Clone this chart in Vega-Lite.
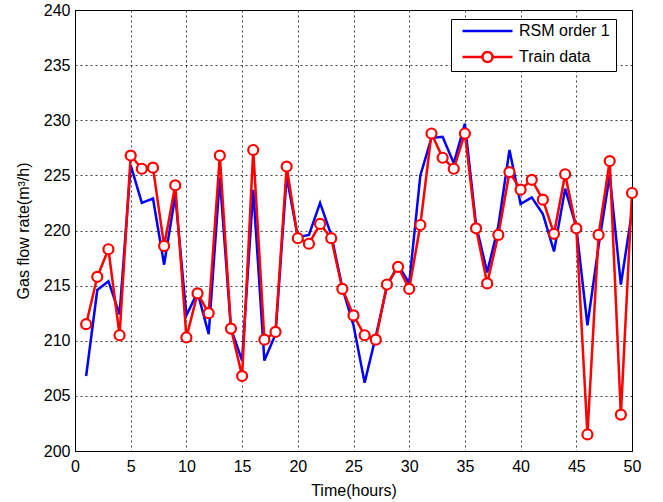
{
  "$schema": "https://vega.github.io/schema/vega-lite/v6.json",
  "width": 557,
  "height": 441,
  "autosize": {"type": "none"},
  "padding": {"left": 75, "top": 10, "right": 31, "bottom": 51},
  "background": "white",
  "config": {
    "view": {"stroke": "black", "strokeWidth": 1},
    "font": "Liberation Sans",
    "axis": {
      "labelFont": "Liberation Sans",
      "titleFont": "Liberation Sans",
      "labelFontSize": 16,
      "titleFontSize": 16,
      "titleFontWeight": "normal",
      "labelColor": "black",
      "titleColor": "black",
      "domainColor": "black",
      "domainWidth": 1,
      "ticks": false,
      "grid": true,
      "gridColor": "black",
      "gridDash": [2, 3],
      "gridOpacity": 0.75,
      "gridWidth": 1
    }
  },
  "data": {
    "values": [
      {"t": 1, "rsm": 206.8, "train": 211.5},
      {"t": 2, "rsm": 214.6, "train": 215.8},
      {"t": 3, "rsm": 215.4, "train": 218.3},
      {"t": 4, "rsm": 212.4, "train": 210.5},
      {"t": 5, "rsm": 225.9, "train": 226.8},
      {"t": 6, "rsm": 222.5, "train": 225.6},
      {"t": 7, "rsm": 222.9, "train": 225.7},
      {"t": 8, "rsm": 216.9, "train": 218.6},
      {"t": 9, "rsm": 223.2, "train": 224.1},
      {"t": 10, "rsm": 212.3, "train": 210.3},
      {"t": 11, "rsm": 214.4, "train": 214.3},
      {"t": 12, "rsm": 210.6, "train": 212.5},
      {"t": 13, "rsm": 224.8, "train": 226.8},
      {"t": 14, "rsm": 211.1, "train": 211.1},
      {"t": 15, "rsm": 208.2, "train": 206.8},
      {"t": 16, "rsm": 223.7, "train": 227.3},
      {"t": 17, "rsm": 208.2, "train": 210.1},
      {"t": 18, "rsm": 210.6, "train": 210.8},
      {"t": 19, "rsm": 224.9, "train": 225.8},
      {"t": 20, "rsm": 219.4, "train": 219.3},
      {"t": 21, "rsm": 219.6, "train": 218.8},
      {"t": 22, "rsm": 222.5, "train": 220.6},
      {"t": 23, "rsm": 219.6, "train": 219.3},
      {"t": 24, "rsm": 214.8, "train": 214.7},
      {"t": 25, "rsm": 211.4, "train": 212.3},
      {"t": 26, "rsm": 206.2, "train": 210.5},
      {"t": 27, "rsm": 210.4, "train": 210.1},
      {"t": 28, "rsm": 214.9, "train": 215.1},
      {"t": 29, "rsm": 216.9, "train": 216.7},
      {"t": 30, "rsm": 215.2, "train": 214.7},
      {"t": 31, "rsm": 225.0, "train": 220.5},
      {"t": 32, "rsm": 228.4, "train": 228.8},
      {"t": 33, "rsm": 228.5, "train": 226.6},
      {"t": 34, "rsm": 226.1, "train": 225.6},
      {"t": 35, "rsm": 229.7, "train": 228.8},
      {"t": 36, "rsm": 220.5, "train": 220.2},
      {"t": 37, "rsm": 216.2, "train": 215.2},
      {"t": 38, "rsm": 220.4, "train": 219.6},
      {"t": 39, "rsm": 227.3, "train": 225.3},
      {"t": 40, "rsm": 222.4, "train": 223.7},
      {"t": 41, "rsm": 223.0, "train": 224.6},
      {"t": 42, "rsm": 221.5, "train": 222.8},
      {"t": 43, "rsm": 218.1, "train": 219.7},
      {"t": 44, "rsm": 223.8, "train": 225.1},
      {"t": 45, "rsm": 220.3, "train": 220.2},
      {"t": 46, "rsm": 211.4, "train": 201.5},
      {"t": 47, "rsm": 218.6, "train": 219.6},
      {"t": 48, "rsm": 225.0, "train": 226.3},
      {"t": 49, "rsm": 215.1, "train": 203.3},
      {"t": 50, "rsm": 221.7, "train": 223.4}
    ]
  },
  "transform": [
    {"fold": ["rsm", "train"], "as": ["key", "value"]},
    {"lookup": "key", "from": {"data": {"values": [{"key": "rsm", "series": "RSM order 1"}, {"key": "train", "series": "Train data"}]}, "key": "key", "fields": ["series"]}}
  ],
  "encoding": {
    "x": {
      "field": "t", "type": "quantitative",
      "scale": {"domain": [0, 50], "nice": false},
      "axis": {"values": [0, 5, 10, 15, 20, 25, 30, 35, 40, 45, 50], "title": "Time(hours)", "labelPadding": 7, "titlePadding": 8, "labelFlush": false}
    },
    "y": {
      "field": "value", "type": "quantitative",
      "scale": {"domain": [200, 240], "nice": false, "zero": false},
      "axis": {"values": [200, 205, 210, 215, 220, 225, 230, 235, 240], "title": "Gas flow rate(m³/h)", "labelPadding": 5, "titlePadding": 12, "labelFlush": false}
    }
  },
  "layer": [
    {
      "mark": {"type": "line", "strokeWidth": 2.5, "clip": true},
      "encoding": {
        "color": {
          "field": "series", "type": "nominal",
          "scale": {"domain": ["RSM order 1", "Train data"], "range": ["#0000ff", "#ff0000"]},
          "legend": {
            "title": null,
            "orient": "none",
            "legendX": 376,
            "legendY": 9,
            "symbolSize": 3364,
            "symbolStrokeWidth": 2.5,
            "clipHeight": 12,
            "labelFont": "Liberation Sans",
            "labelFontSize": 16,
            "labelColor": "black",
            "labelOffset": 1,
            "padding": 6,
            "rowPadding": 10,
            "fillColor": "white",
            "strokeColor": "black",
            "encode": {
              "symbols": {
                "update": {
                  "shape": {"signal": "datum.value === 'Train data' ? 'M-0.862,0H-0.172A0.172,0.172,0,1,1,0.172,0A0.172,0.172,0,1,1,-0.172,0M0.172,0H0.862' : 'M-0.862,0H0.862'"},
                  "fill": {"value": "transparent"}
                }
              }
            }
          }
        }
      }
    },
    {
      "transform": [{"filter": "datum.key === 'train'"}],
      "mark": {"type": "point", "shape": "circle", "size": 100, "filled": false, "fill": "white", "fillOpacity": 1, "stroke": "#ff0000", "strokeWidth": 2.2, "opacity": 1}
    }
  ]
}
